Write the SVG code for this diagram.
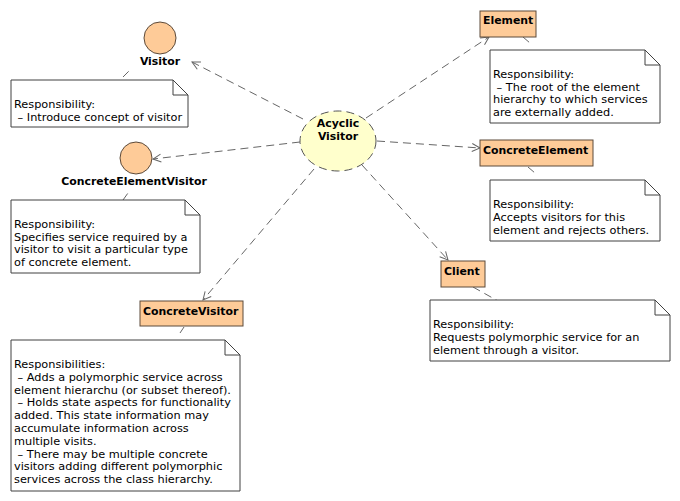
<svg xmlns="http://www.w3.org/2000/svg" width="680" height="501" viewBox="0 0 680 501">
<style>
text{font-family:"DejaVu Sans","Liberation Sans",sans-serif;font-size:11.3px;fill:#000}
.b{font-weight:bold;font-size:10.9px}
.box{fill:#FECB98;stroke:#5c4a3a;stroke-width:1}
.note{fill:#fff;stroke:#404040;stroke-width:1}
.conn{fill:none;stroke:#666;stroke-width:1;stroke-dasharray:8,5}
.nl{fill:none;stroke:#666;stroke-width:1;stroke-dasharray:8,5}
</style>
<defs>
<marker id="arr" markerUnits="userSpaceOnUse" markerWidth="12" markerHeight="12" refX="9" refY="5" orient="auto">
<path d="M1,1 L9,5 L1,9" fill="none" stroke="#666" stroke-width="1"/>
</marker>
</defs>
<rect width="680" height="501" fill="#fff"/>
<g id="connectors">
<line class="conn" x1="303" y1="119" x2="192" y2="62" marker-end="url(#arr)"/>
<line class="conn" x1="300" y1="142" x2="153" y2="159" marker-end="url(#arr)"/>
<line class="conn" x1="366" y1="118" x2="489" y2="37" marker-end="url(#arr)"/>
<line class="conn" x1="377" y1="141" x2="480" y2="148" marker-end="url(#arr)"/>
<line class="conn" x1="362" y1="165" x2="448" y2="260" marker-end="url(#arr)"/>
<line class="conn" x1="314" y1="169" x2="203" y2="300" marker-end="url(#arr)"/>
<line class="nl" x1="123" y1="77" x2="131" y2="69"/>
<line class="nl" x1="123" y1="200" x2="128" y2="193"/>
<line class="nl" x1="523" y1="37" x2="530" y2="43"/>
<line class="nl" x1="528" y1="167" x2="535" y2="173"/>
<line class="nl" x1="473" y1="287" x2="498" y2="301"/>
<line class="nl" x1="180" y1="333" x2="184" y2="327"/>
</g>
<g id="acyclic">
<ellipse cx="338" cy="141" rx="38" ry="30" fill="#FFFFCC" stroke="#555" stroke-dasharray="8,5"/>
<text class="b" x="338" y="127" text-anchor="middle">Acyclic</text>
<text class="b" x="338" y="140" text-anchor="middle">Visitor</text>
</g>
<g id="visitor">
<circle cx="160" cy="38" r="16" class="box"/>
<text class="b" x="160" y="65" text-anchor="middle">Visitor</text>
</g>
<g id="visitor-note">
<path class="note" d="M11,80 H173 L188,95 V127 H11 Z M173,80 V95 H188"/>
<text x="14" y="108">Responsibility:</text>
<text x="14" y="121" xml:space="preserve"> – Introduce concept of visitor</text>
</g>
<g id="cev">
<circle cx="136" cy="158" r="16" class="box"/>
<text class="b" x="134" y="185" text-anchor="middle">ConcreteElementVisitor</text>
</g>
<g id="cev-note">
<path class="note" d="M11,200 H185 L200,215 V273 H11 Z M185,200 V215 H200"/>
<text x="14" y="228">Responsibility:</text>
<text x="14" y="241">Specifies service required by a</text>
<text x="14" y="253">visitor to visit a particular type</text>
<text x="14" y="266">of concrete element.</text>
</g>
<g id="element">
<rect class="box" x="480" y="11" width="56" height="26"/>
<text class="b" x="483" y="24">Element</text>
</g>
<g id="element-note">
<path class="note" d="M490,50 H645 L660,65 V123 H490 Z M645,50 V65 H660"/>
<text x="493" y="78">Responsibility:</text>
<text x="493" y="91" xml:space="preserve"> – The root of the element</text>
<text x="493" y="103">hierarchy to which services</text>
<text x="493" y="116">are externally added.</text>
</g>
<g id="concreteelement">
<rect class="box" x="480" y="140" width="113" height="26"/>
<text class="b" x="483" y="154">ConcreteElement</text>
</g>
<g id="concreteelement-note">
<path class="note" d="M490,180 H645 L660,195 V241 H490 Z M645,180 V195 H660"/>
<text x="493" y="208">Responsibility:</text>
<text x="493" y="221">Accepts visitors for this</text>
<text x="493" y="234">element and rejects others.</text>
</g>
<g id="client">
<rect class="box" x="441" y="261" width="44" height="26"/>
<text class="b" x="444" y="275">Client</text>
</g>
<g id="client-note">
<path class="note" d="M430,300 H655 L670,315 V361 H430 Z M655,300 V315 H670"/>
<text x="433" y="328">Responsibility:</text>
<text x="433" y="341">Requests polymorphic service for an</text>
<text x="433" y="354">element through a visitor.</text>
</g>
<g id="concretevisitor">
<rect class="box" x="140" y="301" width="103" height="25"/>
<text class="b" x="143" y="315">ConcreteVisitor</text>
</g>
<g id="concretevisitor-note">
<path class="note" d="M11,340 H225 L240,355 V491 H11 Z M225,340 V355 H240"/>
<text x="14" y="368">Responsibilities:</text>
<text x="14" y="381" xml:space="preserve"> – Adds a polymorphic service across</text>
<text x="14" y="394">element hierarchu (or subset thereof).</text>
<text x="14" y="406" xml:space="preserve"> – Holds state aspects for functionality</text>
<text x="14" y="419">added. This state information may</text>
<text x="14" y="432">accumulate information across</text>
<text x="14" y="445">multiple visits.</text>
<text x="14" y="458" xml:space="preserve"> – There may be multiple concrete</text>
<text x="14" y="470">visitors adding different polymorphic</text>
<text x="14" y="483">services across the class hierarchy.</text>
</g>
</svg>
